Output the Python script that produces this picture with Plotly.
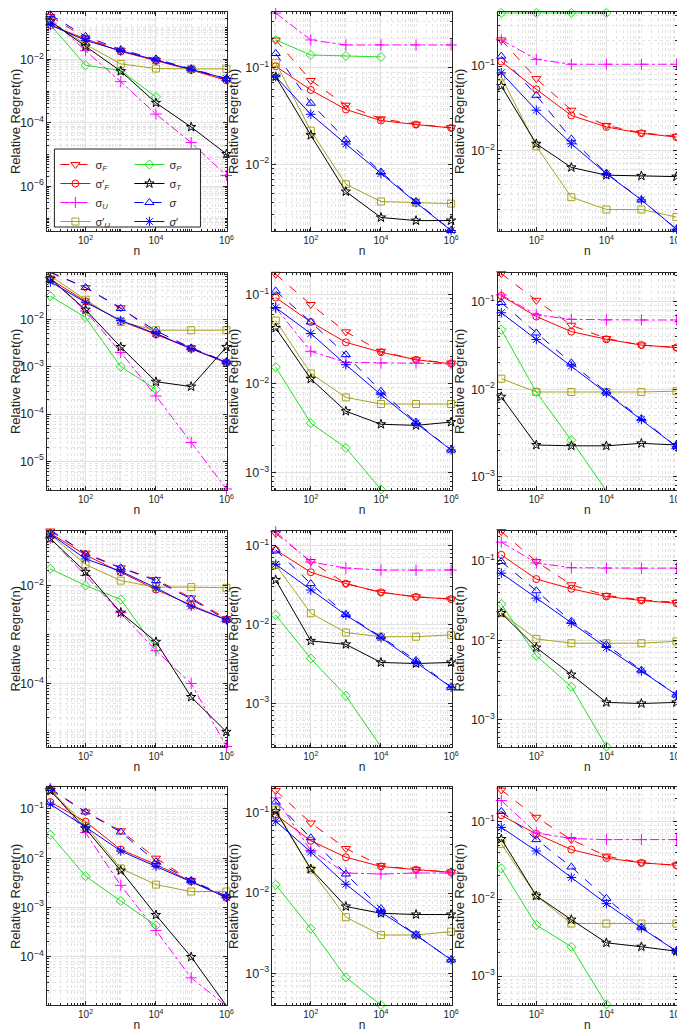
import plotly.graph_objects as go

# ---------------- data ----------------
n_values = [10, 100, 1000, 10000, 100000, 1000000]
n_values_P = [10, 100, 1000, 10000]

# each list: 12 panels (row-major, 4 rows x 3 cols), values at n_values
sigma_F = [
    [0.23, 0.048, 0.019, 0.0095, 0.0049, 0.0023],
    [0.195, 0.074, 0.041, 0.0296, 0.026, 0.024],
    [0.204, 0.071, 0.030, 0.0198, 0.0162, 0.0147],
    [0.097, 0.047, 0.0176, 0.0050, 0.0025, 0.0012],
    [0.168, 0.077, 0.038, 0.023, 0.0185, 0.017],
    [0.21, 0.104, 0.054, 0.038, 0.032, 0.030],
    [0.13, 0.046, 0.023, 0.0133, 0.0056, 0.0021],
    [0.143, 0.063, 0.033, 0.0256, 0.0225, 0.021],
    [0.234, 0.098, 0.050, 0.0366, 0.0323, 0.030],
    [0.245, 0.087, 0.036, 0.010, 0.0035, 0.00155],
    [0.19, 0.075, 0.036, 0.022, 0.0196, 0.0183],
    [0.26, 0.115, 0.059, 0.036, 0.0295, 0.0274],
]
sigma_F_prime = [
    [0.12, 0.045, 0.018, 0.0092, 0.0047, 0.0022],
    [0.104, 0.059, 0.037, 0.0284, 0.0258, 0.0238],
    [0.113, 0.053, 0.026, 0.019, 0.016, 0.0144],
    [0.071, 0.024, 0.0092, 0.0048, 0.0024, 0.0012],
    [0.092, 0.049, 0.029, 0.0225, 0.0185, 0.0167],
    [0.117, 0.068, 0.0456, 0.0373, 0.032, 0.030],
    [0.117, 0.042, 0.0187, 0.0083, 0.0040, 0.0020],
    [0.088, 0.046, 0.033, 0.0256, 0.0224, 0.021],
    [0.119, 0.059, 0.0445, 0.0356, 0.0317, 0.0293],
    [0.138, 0.055, 0.015, 0.0074, 0.0034, 0.0016],
    [0.095, 0.045, 0.028, 0.0215, 0.0196, 0.0182],
    [0.122, 0.070, 0.0438, 0.034, 0.0295, 0.0274],
]
sigma_U = [
    [0.2, 0.019, 0.002, 1.9e-4, 2.4e-5, 2.2e-6],
    [0.37, 0.195, 0.173, 0.173, 0.173, 0.173],
    [0.204, 0.12, 0.105, 0.105, 0.105, 0.105],
    [0.076, 0.015, 0.002, 2.4e-4, 2.5e-5, 2.6e-6],
    [0.071, 0.023, 0.0173, 0.017, 0.017, 0.0167],
    [0.12, 0.071, 0.063, 0.062, 0.062, 0.062],
    [0.093, 0.016, 0.0028, 4.7e-4, 1.0e-4, 5.2e-6],
    [0.15, 0.062, 0.052, 0.049, 0.049, 0.049],
    [0.172, 0.094, 0.082, 0.081, 0.081, 0.081],
    [0.26, 0.033, 0.0028, 3.4e-4, 3.7e-5, 1.0e-5],
    [0.154, 0.034, 0.0178, 0.0173, 0.0178, 0.0178],
    [0.19, 0.072, 0.061, 0.059, 0.059, 0.059],
]
sigma_U_prime = [
    [0.16, 0.03, 0.0073, 0.0052, 0.0051, 0.0051],
    [0.113, 0.0223, 0.0062, 0.0041, 0.0040, 0.0039],
    [0.075, 0.0112, 0.0028, 0.0020, 0.0020, 0.00163],
    [0.083, 0.026, 0.0088, 0.0059, 0.0059, 0.0059],
    [0.051, 0.013, 0.0070, 0.0059, 0.0059, 0.0059],
    [0.0132, 0.0093, 0.0093, 0.0093, 0.0093, 0.0095],
    [0.11, 0.027, 0.0126, 0.0093, 0.0093, 0.0090],
    [0.057, 0.0139, 0.0079, 0.0070, 0.0070, 0.0074],
    [0.022, 0.0104, 0.0092, 0.0092, 0.0092, 0.0097],
    [0.245, 0.046, 0.0062, 0.0029, 0.0021, 0.0021],
    [0.11, 0.0196, 0.0050, 0.0030, 0.0030, 0.0033],
    [0.052, 0.011, 0.0048, 0.0048, 0.0048, 0.0048],
]
sigma_P = [
    [0.125, 0.0066, 0.0045, 6.6e-4],
    [0.195, 0.136, 0.133, 0.13],
    [0.425, 0.425, 0.425, 0.425],
    [0.031, 0.011, 1.0e-3, 3.3e-4],
    [0.0153, 0.0036, 0.0019, 6.5e-4],
    [0.048, 0.0093, 0.0026, 6.9e-4],
    [0.022, 0.010, 0.0052, 5.2e-4],
    [0.0132, 0.0037, 0.00125, 2.8e-4],
    [0.0285, 0.0064, 0.0026, 4.6e-4],
    [0.030, 0.0043, 0.00135, 4.3e-4],
    [0.0127, 0.0036, 0.00089, 4.0e-4],
    [0.025, 0.0046, 0.0024, 4.3e-4],
]
sigma_T = [
    [0.16, 0.026, 0.0043, 4.3e-4, 7.4e-5, 1.05e-5],
    [0.081, 0.020, 0.0052, 0.0028, 0.0026, 0.0026],
    [0.058, 0.012, 0.0063, 0.0051, 0.0050, 0.0049],
    [0.073, 0.016, 0.0026, 4.8e-4, 3.8e-4, 0.0026],
    [0.042, 0.0113, 0.0049, 0.0035, 0.0034, 0.0037],
    [0.0082, 0.0023, 0.00225, 0.00225, 0.0024, 0.0023],
    [0.091, 0.019, 0.0028, 7.1e-4, 5.3e-5, 1.03e-5],
    [0.0367, 0.0062, 0.0056, 0.0033, 0.0032, 0.0033],
    [0.022, 0.0081, 0.0037, 0.00165, 0.0016, 0.00165],
    [0.235, 0.040, 0.0056, 7.0e-4, 9.8e-5, 1.0e-5],
    [0.105, 0.020, 0.0068, 0.0056, 0.0054, 0.0054],
    [0.060, 0.011, 0.0054, 0.0027, 0.0024, 0.0021],
]
sigma = [
    [0.26, 0.054, 0.0206, 0.0105, 0.0051, 0.0025],
    [0.141, 0.043, 0.018, 0.0083, 0.0041, 0.00205],
    [0.131, 0.045, 0.0137, 0.0054, 0.0026, 0.00117],
    [0.10, 0.047, 0.017, 0.0057, 0.0025, 0.00127],
    [0.109, 0.049, 0.0211, 0.0082, 0.0037, 0.0018],
    [0.098, 0.044, 0.020, 0.0093, 0.0046, 0.0022],
    [0.138, 0.044, 0.023, 0.0126, 0.0053, 0.0020],
    [0.088, 0.033, 0.0134, 0.0070, 0.0035, 0.0016],
    [0.098, 0.042, 0.0173, 0.0088, 0.0042, 0.00205],
    [0.26, 0.087, 0.034, 0.0085, 0.0035, 0.0017],
    [0.137, 0.049, 0.0173, 0.0064, 0.0030, 0.00147],
    [0.137, 0.059, 0.026, 0.0102, 0.0043, 0.0021],
]
sigma_prime = [
    [0.125, 0.040, 0.019, 0.0095, 0.0049, 0.0025],
    [0.081, 0.033, 0.0162, 0.0080, 0.0040, 0.00205],
    [0.083, 0.030, 0.012, 0.0053, 0.0026, 0.00117],
    [0.062, 0.023, 0.0095, 0.0050, 0.0024, 0.00125],
    [0.071, 0.0364, 0.0163, 0.0075, 0.0036, 0.0018],
    [0.075, 0.037, 0.0184, 0.0091, 0.0045, 0.0022],
    [0.113, 0.035, 0.0196, 0.0090, 0.0038, 0.0020],
    [0.058, 0.0274, 0.0132, 0.0068, 0.0033, 0.0016],
    [0.070, 0.034, 0.0165, 0.0081, 0.0041, 0.00205],
    [0.125, 0.043, 0.014, 0.0068, 0.0034, 0.0016],
    [0.079, 0.0326, 0.0129, 0.0058, 0.0030, 0.00147],
    [0.085, 0.042, 0.019, 0.0087, 0.0042, 0.0021],
]

x_tick_vals = [1e2, 1e4, 1e6]
x_tick_text = ["10<sup>2</sup>", "10<sup>4</sup>", "10<sup>6</sup>"]
y_title = "Relative Regret(n)"
x_title = "n"

# ---------------- layout helpers ----------------
W, H = 685, 1035
col_px = [(37.3, 220.0), (265.7, 447.7), (494.3, 676.0)]
row_px = [(4.0, 222.7), (265.0, 481.7), (522.7, 738.7), (779.3, 997.3)]
y_ranges = [
    [-7.4, -0.5], [-2.69, -0.42], [-2.95, -0.36],
    [-5.6, -1.02], [-3.19, -0.76], [-3.15, -0.67],
    [-5.29, -0.88], [-3.55, -0.81], [-3.34, -0.62],
    [-4.99, -0.56], [-3.40, -0.68], [-3.38, -0.55],
]
y_dticks = [2, 1, 1, 1, 1, 1, 2, 1, 1, 1, 1, 1]
x_range = [0.9, 6.02]

RED, MAG, OLIVE, GREEN, BLACK, BLUE = "#ff0000", "#ff00ff", "#a8a21c", "#22e022", "#000000", "#0000ff"
FONT = "Liberation Sans, Arial, sans-serif"
AXC = "#262626"

series = [
    ("σ<sub><i>F</i></sub>", sigma_F, RED, "dash", "triangle-down-open", "legend"),
    ("σ′<sub><i>F</i></sub>", sigma_F_prime, RED, "solid", "circle-open", "legend"),
    ("σ<sub><i>U</i></sub>", sigma_U, MAG, "dashdot", "cross-thin-open", "legend"),
    ("σ′<sub><i>U</i></sub>", sigma_U_prime, OLIVE, "solid", "square-open", "legend"),
    ("σ<sub><i>P</i></sub>", sigma_P, GREEN, "solid", "diamond-open", "legend2"),
    ("σ<sub><i>T</i></sub>", sigma_T, BLACK, "solid", "star-open", "legend2"),
    ("<i>σ</i>", sigma, BLUE, "dash", "triangle-up-open", "legend2"),
    ("<i>σ</i>′", sigma_prime, BLUE, "solid", "asterisk-open", "legend2"),
]

fig = go.Figure()
layout = {}
for p in range(12):
    r, c = divmod(p, 3)
    idx = "" if p == 0 else str(p + 1)
    xa, ya = "x" + idx, "y" + idx
    for name, data, color, dash, sym, leg in series:
        vals = data[p]
        xs = n_values if len(vals) == 6 else n_values_P
        msize = 8 if sym in ("triangle-down-open", "triangle-up-open", "cross-thin-open", "asterisk-open") else 7
        fig.add_trace(go.Scatter(
            x=xs, y=vals, mode="lines+markers", name=name,
            line=dict(color=color, width=1, dash=dash),
            marker=dict(symbol=sym, size=msize, color=color, line=dict(color=color, width=1)),
            cliponaxis=False, xaxis=xa, yaxis=ya,
            showlegend=(p == 0), legend=leg,
        ))
    x0, x1 = col_px[c]
    t, b = row_px[r]
    common = dict(
        type="log", showline=True, mirror="ticks", linecolor=AXC, linewidth=1,
        ticks="inside", ticklen=4, tickcolor=AXC, exponentformat="power",
        showgrid=True, gridcolor="#e2e2e2", gridwidth=1, zeroline=False,
        tickfont=dict(family=FONT, size=10, color=AXC),
        minor=dict(dtick="D1", showgrid=True, gridcolor="#e4e4e4", griddash="dot",
                   gridwidth=1, ticks="inside", ticklen=2, tickcolor=AXC),
    )
    layout["xaxis" + idx] = dict(
        common, domain=[x0 / W, x1 / W], range=x_range, anchor=ya,
        tickmode="array", tickvals=x_tick_vals, ticktext=x_tick_text,
        title=dict(text=x_title, font=dict(family=FONT, size=12, color=AXC), standoff=1),
    )
    layout["yaxis" + idx] = dict(
        common, domain=[1 - b / H, 1 - t / H], range=y_ranges[p], anchor=xa,
        dtick=y_dticks[p], tick0=0,
        title=dict(text=y_title, font=dict(family=FONT, size=13, color=AXC), standoff=3),
    )

# legend box (drawn in the first panel)
lx0, lx1, ly0, ly1 = 45, 193, 141, 219
layout["shapes"] = [dict(type="rect", xref="paper", yref="paper",
                         x0=lx0 / W, x1=lx1 / W, y0=1 - ly1 / H, y1=1 - ly0 / H,
                         line=dict(color=AXC, width=1), fillcolor="white", layer="above")]
leg_common = dict(bgcolor="rgba(0,0,0,0)", borderwidth=0, xanchor="left", yanchor="top",
                  font=dict(family=FONT, size=11, color=AXC), itemwidth=30,
                  tracegroupgap=0)
layout["legend"] = dict(leg_common, x=(lx0 + 1) / W, y=1 - (ly0 + 1) / H)
layout["legend2"] = dict(leg_common, x=(lx0 + 76) / W, y=1 - (ly0 + 1) / H)

fig.update_layout(
    width=W, height=H, margin=dict(l=0, r=0, t=0, b=0),
    paper_bgcolor="white", plot_bgcolor="white",
    font=dict(family=FONT, color=AXC),
    **layout,
)
fig.write_html("out.html")
